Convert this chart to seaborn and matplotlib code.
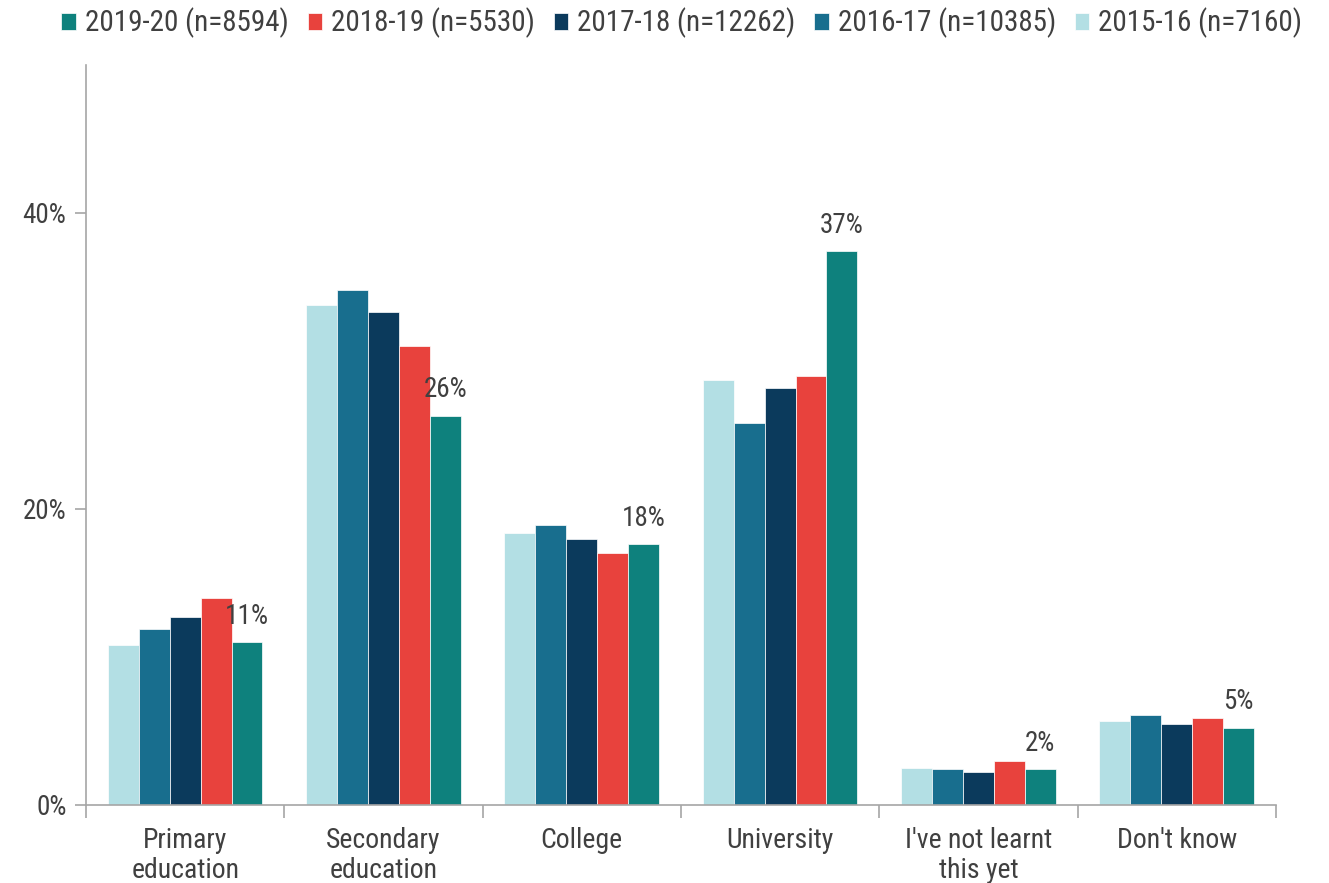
import matplotlib
matplotlib.use("Agg")
import matplotlib.pyplot as plt
import seaborn as sns
import pandas as pd
from matplotlib.ticker import FixedLocator, FuncFormatter

# Where pupils say they learnt the topic, share of respondents per survey year
categories = ["Primary\neducation", "Secondary\neducation", "College",
              "University", "I've not learnt\nthis yet", "Don't know"]
years = ["2015-16", "2016-17", "2017-18", "2018-19", "2019-20"]
sample_sizes = [7160, 10385, 12262, 5530, 8594]

share_2015_16 = [10.8, 33.8, 18.4, 28.7, 2.5, 5.7]
share_2016_17 = [11.9, 34.8, 18.9, 25.8, 2.4, 6.1]
share_2017_18 = [12.7, 33.3, 18.0, 28.2, 2.2, 5.5]
share_2018_19 = [14.0, 31.0, 17.0, 29.0, 3.0, 5.9]
share_2019_20 = [11.0, 26.3, 17.6, 37.4, 2.4, 5.2]

colors = ["#b3dfe4", "#186e8e", "#0b3a5c", "#e8423d", "#0e817d"]

series = [share_2015_16, share_2016_17, share_2017_18, share_2018_19, share_2019_20]
rows = []
for year, n, vals in zip(years, sample_sizes, series):
    for cat, v in zip(categories, vals):
        rows.append({"category": cat, "year": f"{year} (n={n})", "share": v})
df = pd.DataFrame(rows)
hue_order = [f"{y} (n={n})" for y, n in zip(years, sample_sizes)]

sns.set_theme(style="white")
plt.rcParams["font.family"] = ["Liberation Sans Narrow", "DejaVu Sans Condensed",
                               "Roboto Condensed", "DejaVu Sans"]
text_color = "#404040"
axis_color = "#a6a6a6"

fig = plt.figure(figsize=(13.29, 8.83), dpi=100)
ax = fig.add_axes([0.0647, 0.0884, 0.8953, 0.8380])

sns.barplot(data=df, x="category", y="share", hue="year", order=categories,
            hue_order=hue_order, palette=colors, saturation=1, width=0.78,
            gap=0, edgecolor="white", linewidth=0.5, ax=ax, errorbar=None)

ax.set_ylim(0, 50)
ax.set_xlim(-0.5, len(categories) - 0.5)
ax.yaxis.set_major_locator(FixedLocator([0, 20, 40]))
ax.yaxis.set_major_formatter(FuncFormatter(lambda v, _: f"{v:.0f}%"))
ax.set_xlabel("")
ax.set_ylabel("")

# category boundaries get the tick marks, labels sit at the centres
ax.set_xticks([i - 0.5 for i in range(len(categories) + 1)], minor=True)
ax.tick_params(axis="x", which="major", length=0, pad=16,
               labelsize=20, labelcolor=text_color)
ax.tick_params(axis="x", which="minor", length=9, width=1.2,
               color=axis_color, direction="out", bottom=True)
ax.tick_params(axis="y", which="major", length=8, width=1.2, color=axis_color,
               left=True, labelsize=19.5, labelcolor=text_color, pad=6)
for lbl in ax.get_xticklabels():
    lbl.set_linespacing(1.15)

for side in ["top", "right"]:
    ax.spines[side].set_visible(False)
for side in ["left", "bottom"]:
    ax.spines[side].set_color(axis_color)
    ax.spines[side].set_linewidth(1.2)

# value labels on the latest year only
latest = ax.containers[-1]
ax.bar_label(latest, labels=[f"{v:.0f}%" for v in share_2019_20],
             padding=9, fontsize=19.5, color=text_color)

handles, labels = ax.get_legend_handles_labels()
ax.get_legend().remove()
fig.legend(handles[::-1], labels[::-1], loc="upper center",
           bbox_to_anchor=(0.513, 1.021), ncol=5, frameon=False,
           fontsize=21, labelcolor=text_color, handlelength=0.5,
           handleheight=0.5, handletextpad=0.3, columnspacing=0.65)

fig.savefig("out.png", dpi=100)
